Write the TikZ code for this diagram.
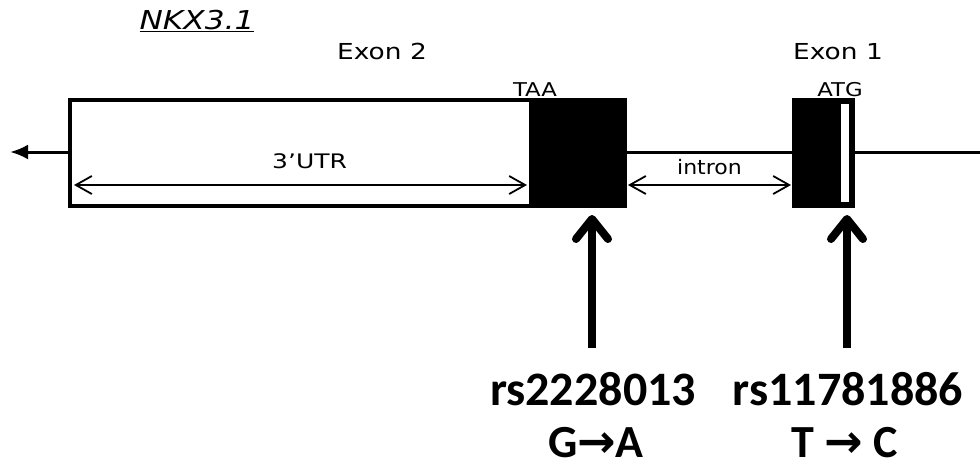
\documentclass[tikz,border=0pt]{standalone}
\usepackage{fontspec}
\setmainfont{DejaVu Sans}
\newfontfamily\snpfont{Carlito}
\newfontfamily\symfont{DejaVu Sans}
\usetikzlibrary{arrows.meta, positioning, calc}

\tikzset{
  exonbox/.style={draw=black, line width=4pt, inner sep=0pt, outer sep=0pt, minimum height=106pt},
  genetext/.style={font=\fontsize{20}{22}\selectfont, inner sep=0pt},
  spanarrow/.style={line width=1.8pt, {Straight Barb[length=16pt,width=18pt,line width=1.8pt]}-{Straight Barb[length=16pt,width=18pt,line width=1.8pt]}},
  snparrow/.style={line width=8pt, -{Straight Barb[length=20pt,width=32pt,line width=8pt,round]}},
  snptext/.style={font=\snpfont\bfseries\fontsize{48}{50}\selectfont, inner sep=0pt, anchor=base},
}
\newcommand{\widetext}[2][1.2]{\scalebox{#1}[1]{#2}}

\begin{document}
\begin{tikzpicture}[x=1pt,y=-1pt]
\fill[white] (0,0) rectangle (980,472);
\useasboundingbox (0,0) rectangle (980,472);

% exons
\node[exonbox, minimum width=555pt] (ex2) at (347.5,153) {};
\node[exonbox, fill=black, minimum width=94pt] (cds2) at (578,153) {};
\node[exonbox, fill=black, minimum width=59pt] (ex1) at (823.5,153) {};
\node[fill=white, inner sep=0pt, minimum width=8pt, minimum height=98pt] (atg) at (845,152.5) {};

% gene line
\coordinate (tss) at (10,152);
\coordinate (gend) at (980,152);
\draw[line width=3pt, -{Latex[length=18pt,width=15pt]}] (ex2.west |- tss) -- (tss);
\draw[line width=3pt] (cds2.east |- tss) -- (ex1.west |- tss);
\draw[line width=3pt] (ex1.east |- gend) -- (gend);

% labels
\node[anchor=base, inner sep=0pt, font=\fontsize{26}{28}\selectfont] (gene) at (197,29) {\widetext{\underline{\itshape NKX3.1}}};
\node[anchor=base, inner sep=0pt, font=\fontsize{22}{24}\selectfont] (lab2) at (382,59) {\widetext{Exon 2}};
\node[anchor=base, inner sep=0pt, font=\fontsize{22}{24}\selectfont] (lab1) at (838,59) {\widetext{Exon 1}};
\node[genetext, anchor=base, font=\fontsize{19}{21}\selectfont] (taa) at (535,96) {\widetext{TAA}};
\node[genetext, anchor=base, font=\fontsize{19}{21}\selectfont] (atgl) at (840,96) {\widetext{ATG}};

% spans
\coordinate (utrL) at (74,185);
\coordinate (utrR) at (527,185);
\draw[spanarrow] (utrL) -- node[genetext, pos=0.52, above=15pt] (utr) {\widetext[1.25]{3’UTR}} (utrR);
\draw[spanarrow, shorten <=3pt, shorten >=3pt] (cds2.east |- utrL) -- node[genetext, above=9pt] (intr) {\widetext[1.1]{intron}} (ex1.west |- utrL);

% SNPs
\coordinate (snp1) at (592,348);
\coordinate (snp2) at (847,348);
\draw[snparrow, shorten >=9pt] (snp1) -- (snp1 |- cds2.south);
\draw[snparrow, shorten >=9pt] (snp2) -- (snp2 |- ex1.south);

\node[snptext] (rs1) at (593,405) {rs2228013};
\node[snptext] (rs2) at (848,405) {rs11781886};
\node[snptext, font=\snpfont\bfseries\fontsize{46}{48}\selectfont] (mut1) at (596,457) {G{\symfont\bfseries →}A};
\node[snptext, font=\snpfont\bfseries\fontsize{46}{48}\selectfont] (mut2) at (845,457) {T {\symfont\bfseries →} C};
\end{tikzpicture}
\end{document}
